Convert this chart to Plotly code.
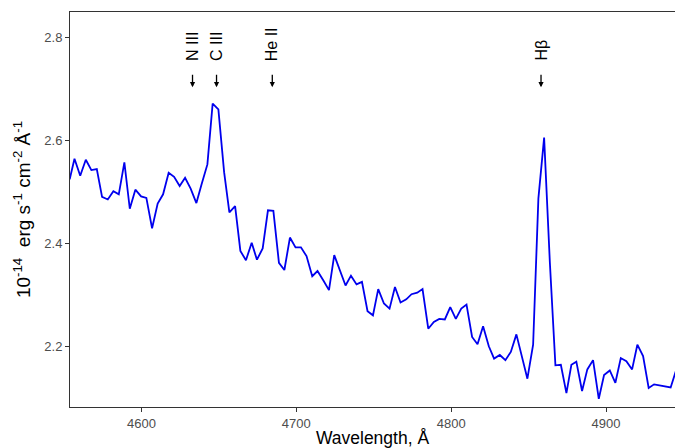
import plotly.graph_objects as go

wavelength = [
    4553.7, 4556.8, 4560.5, 4564.1, 4567.7, 4571.2, 4574.6, 4578.3, 4581.9, 4585.4,
    4589.0, 4592.5, 4596.1, 4599.8, 4603.2, 4606.9, 4610.5, 4614.0, 4617.6, 4621.1,
    4624.7, 4628.2, 4631.8, 4635.5, 4638.9, 4642.6, 4646.0, 4649.7, 4653.4, 4656.8,
    4660.5, 4663.9, 4667.5, 4671.2, 4674.6, 4678.3, 4681.7, 4685.2, 4688.8, 4692.3,
    4695.9, 4699.5, 4703.0, 4706.6, 4710.3, 4713.7, 4717.4, 4721.1, 4724.5, 4728.2,
    4731.8, 4735.3, 4738.9, 4742.4, 4746.0, 4749.5, 4752.9, 4756.6, 4760.2, 4763.7,
    4767.3, 4771.0, 4774.4, 4778.1, 4781.5, 4785.2, 4788.8, 4792.3, 4795.9, 4799.4,
    4803.0, 4806.5, 4809.9, 4813.5, 4817.0, 4820.6, 4824.3, 4827.7, 4831.4, 4835.0,
    4838.5, 4842.1, 4845.8, 4849.2, 4852.9, 4856.3, 4860.0, 4863.7, 4867.3, 4870.8,
    4874.4, 4877.6, 4880.8, 4884.5, 4887.9, 4891.6, 4895.3, 4898.7, 4902.4, 4906.0,
    4909.5, 4913.1, 4916.8, 4920.2, 4923.9, 4927.5, 4931.0, 4934.6, 4938.3, 4941.7,
    4945.2,
]

flux = [
    2.524, 2.564, 2.531, 2.562, 2.542, 2.544, 2.490, 2.485, 2.501, 2.495,
    2.557, 2.467, 2.504, 2.491, 2.488, 2.429, 2.477, 2.495, 2.537, 2.529,
    2.511, 2.527, 2.506, 2.478, 2.515, 2.553, 2.671, 2.660, 2.538, 2.460,
    2.472, 2.385, 2.367, 2.401, 2.368, 2.390, 2.464, 2.463, 2.362, 2.348,
    2.411, 2.392, 2.392, 2.375, 2.336, 2.346, 2.328, 2.309, 2.377, 2.348,
    2.318, 2.337, 2.320, 2.325, 2.268, 2.260, 2.311, 2.283, 2.273, 2.315,
    2.285, 2.291, 2.301, 2.304, 2.311, 2.234, 2.247, 2.253, 2.252, 2.276,
    2.253, 2.273, 2.281, 2.218, 2.204, 2.239, 2.200, 2.176, 2.183, 2.173,
    2.189, 2.223, 2.178, 2.137, 2.203, 2.487, 2.605, 2.363, 2.163, 2.164,
    2.109, 2.164, 2.170, 2.113, 2.155, 2.173, 2.098, 2.144, 2.153, 2.129,
    2.177, 2.171, 2.155, 2.203, 2.181, 2.119, 2.126, 2.124, 2.121, 2.120,
    2.153,
]

line_names = ["N III", "C III", "He II", "H\u03b2"]
line_positions = [4633.0, 4648.5, 4684.5, 4858.0]

x_ticks = [4600, 4700, 4800, 4900]
y_ticks = [2.2, 2.4, 2.6, 2.8]

FONT = "Liberation Sans, Arial, sans-serif"

fig = go.Figure()
fig.add_trace(go.Scatter(
    x=wavelength, y=flux, mode="lines",
    line=dict(color="#0000ee", width=1.8),
    showlegend=False, hoverinfo="skip",
))

for name, pos in zip(line_names, line_positions):
    fig.add_annotation(
        x=pos, y=2.752, xref="x", yref="y",
        text=name, textangle=-90,
        showarrow=False, xanchor="center", yanchor="bottom", borderpad=0,
        font=dict(family=FONT, size=16, color="black"),
    )
    fig.add_annotation(
        x=pos, y=2.703, xref="x", yref="y",
        text="", showarrow=True, ax=0, ay=-14,
        arrowhead=2, arrowsize=0.8, arrowwidth=1.3, arrowcolor="black",
        standoff=0, startstandoff=0,
    )

axis_font = dict(family=FONT, size=13, color="#4d4d4d")

fig.update_layout(
    width=675, height=448,
    margin=dict(l=70, r=0, t=12, b=41),
    paper_bgcolor="white", plot_bgcolor="white",
    font=dict(family=FONT),
    xaxis=dict(
        range=[4553.9, 4944.5], tickvals=x_ticks, showgrid=False, zeroline=False,
        showline=True, mirror=True, linecolor="#333333", linewidth=1,
        ticks="outside", ticklen=4, tickcolor="#333333", tickfont=axis_font,
        title=dict(text="Wavelength, \u00c5", standoff=4,
                   font=dict(family=FONT, size=17.5, color="black")),
    ),
    yaxis=dict(
        range=[2.082, 2.849], tickvals=y_ticks, tickformat=".1f",
        showgrid=False, zeroline=False,
        showline=True, mirror=False, linecolor="#333333", linewidth=1,
        ticks="outside", ticklen=4, tickcolor="#333333", tickfont=axis_font,
        title=dict(text="10<sup>-14</sup>  erg s<sup>-1</sup> cm<sup>-2</sup> \u00c5<sup>-1</sup>",
                   standoff=8,
                   font=dict(family=FONT, size=19, color="black")),
    ),
)

fig.write_html(
    "out.html",
    config={"displayModeBar": False},
    post_script="document.body.style.margin='0';document.body.style.overflow='hidden';",
)
